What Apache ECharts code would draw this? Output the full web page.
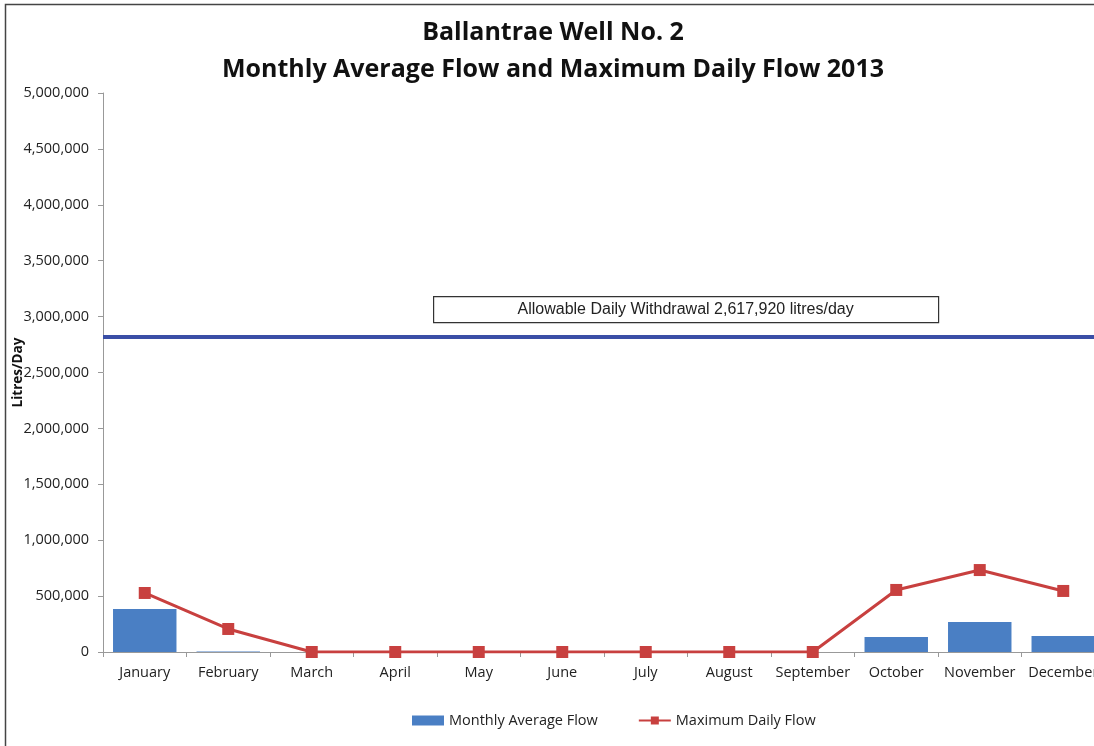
<!DOCTYPE html>
<html>
<head>
<meta charset="utf-8">
<script src="https://cdn.jsdelivr.net/npm/echarts@6/dist/echarts.min.js"></script>
<style>
  html, body { margin: 0; padding: 0; background: #fff; overflow: hidden; }
  #main { width: 1106px; height: 746px; }
</style>
</head>
<body>
<div id="main"></div>
<script>
// data
var months = ['January', 'February', 'March', 'April', 'May', 'June', 'July',
  'August', 'September', 'October', 'November', 'December'];
var avgFlow = [384000, 5000, 0, 0, 0, 0, 0, 0, 0, 134000, 268000, 143000];
var maxFlow = [528000, 206000, 0, 0, 0, 0, 0, 0, 0, 555000, 733000, 546000];
var allowableLine = 2820000;
var allowableText = 'Allowable Daily Withdrawal 2,617,920 litres/day';

var chart = echarts.init(document.getElementById('main'));

var option = {
  backgroundColor: '#fff',
  animation: false,
  title: {
    text: 'Ballantrae Well No. 2\nMonthly Average Flow and Maximum Daily Flow 2013',
    left: 548,
    top: 9,
    textAlign: 'center',
    textStyle: {
      fontFamily: 'Open Sans',
      fontSize: 25,
      fontWeight: 'bold',
      color: '#111',
      lineHeight: 37
    }
  },
  legend: {
    bottom: 13,
    left: 407,
    itemGap: 40,
    itemWidth: 32,
    itemHeight: 10,
    textStyle: { fontFamily: 'Open Sans', fontSize: 14.5, color: '#222' },
    data: [
      { name: 'Monthly Average Flow', icon: 'rect' },
      { name: 'Maximum Daily Flow' }
    ]
  },
  grid: {
    left: 103,
    right: 1,
    top: 93,
    bottom: 94,
    outerBoundsMode: 'none'
  },
  xAxis: [{
    type: 'category',
    data: months,
    boundaryGap: true,
    axisLine: { show: true, lineStyle: { color: '#999' } },
    axisTick: { show: true, alignWithLabel: false, length: 5, lineStyle: { color: '#999' } },
    axisLabel: {
      color: '#222',
      fontFamily: 'Open Sans',
      fontSize: 14.5,
      margin: 13,
      interval: 0
    },
    splitLine: { show: false }
  }],
  yAxis: [{
    type: 'value',
    min: 0,
    max: 5000000,
    interval: 500000,
    name: 'Litres/Day',
    nameLocation: 'middle',
    nameGap: 78,
    nameMoveOverlap: false,
    nameTextStyle: { fontFamily: 'Open Sans', fontSize: 13.5, fontWeight: 'bold', color: '#111' },
    axisLine: { show: true, lineStyle: { color: '#999' } },
    axisTick: { show: true, length: 5, lineStyle: { color: '#999' } },
    splitLine: { show: false },
    axisLabel: {
      color: '#222',
      fontFamily: 'Open Sans',
      fontSize: 14.5,
      margin: 14,
      formatter: function (v) { return v.toLocaleString('en-US'); }
    }
  }],
  series: [
    {
      name: 'Monthly Average Flow',
      type: 'bar',
      data: avgFlow,
      barWidth: '76%',
      itemStyle: { color: '#4a7fc4' },
      markLine: {
        silent: true,
        symbol: 'none',
        label: { show: false },
        lineStyle: { color: '#3a4ea6', width: 4, type: 'solid' },
        data: [{ yAxis: allowableLine }]
      }
    },
    {
      name: 'Maximum Daily Flow',
      type: 'line',
      data: maxFlow,
      symbol: 'rect',
      symbolSize: 12,
      z: 5,
      lineStyle: { color: '#c8403f', width: 3 },
      itemStyle: { color: '#c8403f' }
    }
  ],
  graphic: [
    {
      type: 'rect',
      left: 3,
      top: 2,
      shape: { width: 1200, height: 800 },
      style: { fill: 'none', stroke: '#444', lineWidth: 1.5 },
      silent: true
    },
    {
      type: 'group',
      left: 433,
      top: 296,
      children: [
        {
          type: 'rect',
          shape: { width: 505, height: 26 },
          style: { fill: '#fff', stroke: '#333', lineWidth: 1.2 }
        },
        {
          type: 'text',
          x: 252,
          y: 13,
          style: {
            text: allowableText,
            fontFamily: 'Liberation Sans',
            fontSize: 16,
            fill: '#222',
            align: 'center',
            verticalAlign: 'middle'
          }
        }
      ]
    }
  ]
};

chart.setOption(option);
</script>
</body>
</html>
